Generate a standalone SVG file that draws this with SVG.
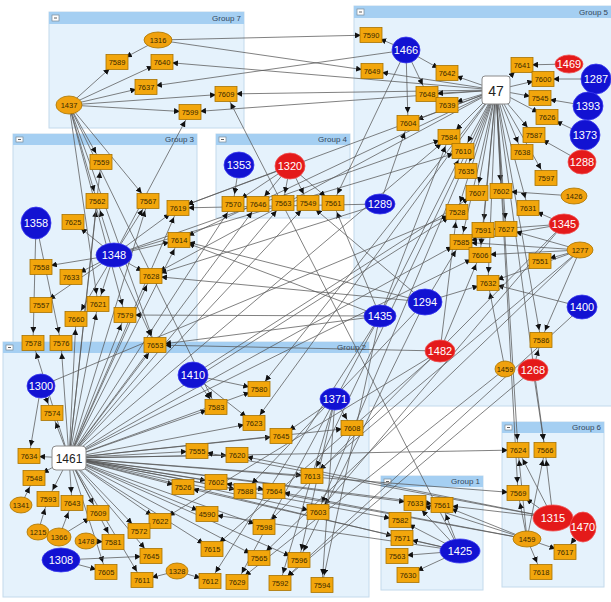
<svg xmlns="http://www.w3.org/2000/svg" width="611" height="602" viewBox="0 0 611 602">
<style>
.gb{fill:#E5F2FC;stroke:#C3DAEC;stroke-width:1}
.gh{fill:#A5CFF2}
.gt{font-family:"Liberation Sans",Arial,sans-serif;font-size:8px;fill:#34465a;text-anchor:end}
.mb{fill:#fff;stroke:#7a8a99;stroke-width:0.7}
#edges path{stroke:#575757;stroke-width:0.75;fill:none;marker-end:url(#a)}
.r{fill:#F2A60C;stroke:#A87300;stroke-width:0.8}
.o{fill:#F0A10E;stroke:#A87300;stroke-width:0.8}
.b{fill:#1212D2;stroke:#3a3af0;stroke-width:0.8}
.rd{fill:#E41A1A;stroke:#f05050;stroke-width:0.8}
.w{fill:#fff;stroke:#8a8a8a;stroke-width:1}
.t{font-family:"Liberation Sans",Arial,sans-serif;font-size:7.5px;fill:#3a2a00;text-anchor:middle}
.tw{font-family:"Liberation Sans",Arial,sans-serif;font-size:11px;fill:#fff;text-anchor:middle}
.tb{font-family:"Liberation Sans",Arial,sans-serif;fill:#222;text-anchor:middle}
</style>
<defs>
<marker id="a" viewBox="0 0 6 6" refX="16" refY="3" markerWidth="6" markerHeight="6" orient="auto" markerUnits="userSpaceOnUse"><path d="M0,0L6,3L0,6z" fill="#111"/></marker>
</defs>
<rect width="611" height="602" fill="#fff"/>
<g id="groups">
<g id="group7"><rect class="gb" x="49" y="12" width="195" height="116"/><rect class="gh" x="49" y="12" width="195" height="12"/><rect class="mb" x="52" y="15" width="7" height="6"/><path d="M54 18h3" stroke="#333" stroke-width="0.8"/><text class="gt" x="241" y="21">Group 7</text></g>
<g id="group5"><rect class="gb" x="354" y="6" width="270" height="400"/><rect class="gh" x="354" y="6" width="270" height="12"/><rect class="mb" x="357" y="9" width="7" height="6"/><path d="M359 12h3" stroke="#333" stroke-width="0.8"/><text class="gt" x="608" y="15">Group 5</text></g>
<g id="group3"><rect class="gb" x="13" y="134" width="184" height="222"/><rect class="gh" x="13" y="134" width="184" height="11"/><rect class="mb" x="16" y="137" width="7" height="5"/><path d="M18 139.5h3" stroke="#333" stroke-width="0.8"/><text class="gt" x="194" y="142">Group 3</text></g>
<g id="group4"><rect class="gb" x="216" y="134" width="134" height="84"/><rect class="gh" x="216" y="134" width="134" height="11"/><rect class="mb" x="219" y="137" width="7" height="5"/><path d="M221 139.5h3" stroke="#333" stroke-width="0.8"/><text class="gt" x="347" y="142">Group 4</text></g>
<g id="group2"><rect class="gb" x="3" y="342" width="366" height="255"/><rect class="gh" x="3" y="342" width="366" height="11"/><rect class="mb" x="6" y="345" width="7" height="5"/><path d="M8 347.5h3" stroke="#333" stroke-width="0.8"/><text class="gt" x="366" y="350">Group 2</text></g>
<g id="group1"><rect class="gb" x="381" y="476" width="102" height="114"/><rect class="gh" x="381" y="476" width="102" height="11"/><rect class="mb" x="384" y="479" width="7" height="5"/><path d="M386 481.5h3" stroke="#333" stroke-width="0.8"/><text class="gt" x="480" y="484">Group 1</text></g>
<g id="group6"><rect class="gb" x="502" y="422" width="102" height="165"/><rect class="gh" x="502" y="422" width="102" height="11"/><rect class="mb" x="505" y="425" width="7" height="5"/><path d="M507 427.5h3" stroke="#333" stroke-width="0.8"/><text class="gt" x="601" y="430">Group 6</text></g>
</g>
<g id="edges">
<path d="M158 40L117 62"/><path d="M158 40L371 35"/><path d="M158 40L372 71"/>
<path d="M69 105L117 62"/><path d="M69 105L162 62"/><path d="M69 105L146 87"/><path d="M69 105L190 112"/><path d="M69 105L226 94"/>
<path d="M496 90L162 62"/><path d="M406 50L146 87"/><path d="M496 90L226 94"/><path d="M496 90L190 112"/><path d="M114 255L190 112"/><path d="M460 551L226 94"/>
<path d="M69 105L101 162"/><path d="M69 105L97 201"/><path d="M69 105L148 201"/><path d="M69 105L98 304"/><path d="M69 105L125 315"/><path d="M69 105L155 345"/><path d="M69 105L216 407"/>
<path d="M406 50L371 35"/><path d="M406 50L447 73"/><path d="M406 50L427 94"/><path d="M406 50L408 123"/><path d="M406 50L333 203"/>
<path d="M496 90L372 71"/><path d="M496 90L447 73"/><path d="M496 90L427 94"/><path d="M496 90L447 105"/><path d="M496 90L522 65"/><path d="M496 90L543 79"/><path d="M496 90L540 98"/><path d="M496 90L547 117"/><path d="M496 90L534 135"/><path d="M496 90L449 137"/><path d="M496 90L463 151"/><path d="M496 90L522 152"/><path d="M496 90L546 178"/><path d="M496 90L466 171"/><path d="M496 90L477 193"/><path d="M496 90L501 191"/><path d="M496 90L528 208"/><path d="M496 90L457 212"/><path d="M496 90L483 230"/><path d="M496 90L506 229"/><path d="M496 90L461 242"/><path d="M496 90L480 255"/><path d="M496 90L488 283"/><path d="M496 90L541 340"/><path d="M496 90L518 450"/><path d="M496 90L518 493"/><path d="M496 90L408 123"/><path d="M496 90L178 208"/><path d="M496 90L179 240"/><path d="M496 90L151 276"/><path d="M496 90L259 389"/><path d="M496 90L254 423"/><path d="M496 90L318 512"/><path d="M496 90L312 476"/><path d="M496 90L545 450"/>
<path d="M569 64L522 65"/><path d="M596 79L543 79"/><path d="M588 106L540 98"/><path d="M585 135L547 117"/><path d="M582 162L534 135"/><path d="M574 196L501 191"/><path d="M564 224L528 208"/><path d="M564 224L483 230"/><path d="M564 224L461 242"/>
<path d="M580 250L540 261"/><path d="M580 250L461 242"/><path d="M580 250L480 255"/><path d="M580 250L506 229"/><path d="M580 250L488 283"/><path d="M580 250L541 340"/>
<path d="M582 307L488 283"/><path d="M425 302L488 283"/><path d="M425 302L461 242"/><path d="M533 370L541 340"/><path d="M533 370L545 450"/><path d="M505 369L488 283"/>
<path d="M380 204L408 123"/><path d="M380 204L178 208"/><path d="M380 316L125 315"/><path d="M380 316L463 151"/><path d="M380 316L449 137"/><path d="M440 351L480 255"/><path d="M440 351L457 212"/>
<path d="M69 458L449 137"/><path d="M69 458L457 212"/><path d="M69 458L461 242"/><path d="M69 458L480 255"/><path d="M114 255L449 137"/><path d="M114 255L463 151"/><path d="M193 375L477 193"/><path d="M41 386L457 212"/>
<path d="M239 165L233 204"/><path d="M290 166L233 204"/><path d="M290 166L258 204"/><path d="M290 166L283 203"/><path d="M290 166L308 203"/><path d="M290 166L333 203"/><path d="M290 166L178 208"/>
<path d="M69 458L233 204"/><path d="M69 458L258 204"/><path d="M69 458L283 203"/><path d="M69 458L308 203"/><path d="M380 316L333 203"/><path d="M425 302L308 203"/>
<path d="M36 223L33 343"/><path d="M36 223L61 343"/>
<path d="M114 255L97 201"/><path d="M114 255L73 222"/><path d="M114 255L41 267"/><path d="M114 255L71 277"/><path d="M114 255L41 305"/><path d="M114 255L98 304"/><path d="M114 255L76 319"/><path d="M114 255L151 276"/><path d="M114 255L155 345"/><path d="M114 255L179 240"/><path d="M114 255L178 208"/><path d="M114 255L148 201"/>
<path d="M69 458L97 201"/><path d="M69 458L61 343"/><path d="M69 458L33 343"/><path d="M69 458L76 319"/><path d="M69 458L98 304"/><path d="M69 458L125 315"/><path d="M69 458L155 345"/><path d="M69 458L151 276"/><path d="M69 458L179 240"/><path d="M69 458L148 201"/><path d="M69 458L178 208"/><path d="M69 458L101 162"/>
<path d="M425 302L179 240"/><path d="M380 316L155 345"/><path d="M380 204L151 276"/><path d="M425 302L151 276"/><path d="M440 351L155 345"/><path d="M380 316L179 240"/>
<path d="M41 386L52 413"/><path d="M41 386L29 456"/>
<path d="M69 458L52 413"/><path d="M69 458L29 456"/><path d="M69 458L34 478"/><path d="M69 458L48 499"/><path d="M69 458L72 503"/><path d="M69 458L98 513"/><path d="M69 458L183 487"/><path d="M69 458L160 521"/><path d="M69 458L139 531"/><path d="M69 458L113 542"/><path d="M69 458L151 556"/><path d="M69 458L106 572"/><path d="M69 458L142 580"/><path d="M69 458L197 451"/><path d="M69 458L237 455"/><path d="M69 458L216 482"/><path d="M69 458L245 491"/><path d="M69 458L274 491"/><path d="M69 458L312 476"/><path d="M69 458L264 527"/><path d="M69 458L207 514"/><path d="M69 458L212 549"/><path d="M69 458L259 558"/><path d="M69 458L299 560"/><path d="M69 458L318 512"/><path d="M69 458L216 407"/><path d="M69 458L259 389"/><path d="M69 458L254 423"/><path d="M69 458L281 436"/><path d="M69 458L352 428"/><path d="M69 458L415 503"/><path d="M69 458L442 505"/><path d="M69 458L400 520"/><path d="M69 458L402 538"/><path d="M69 458L518 450"/><path d="M69 458L518 493"/>
<path d="M21 505L34 478"/><path d="M38 532L48 499"/><path d="M59 537L72 503"/><path d="M59 537L98 513"/><path d="M86 541L113 542"/><path d="M61 560L151 556"/><path d="M61 560L106 572"/><path d="M177 571L210 581"/><path d="M177 571L142 580"/>
<path d="M193 375L216 407"/><path d="M193 375L259 389"/><path d="M193 375L254 423"/>
<path d="M335 399L352 428"/><path d="M335 399L281 436"/><path d="M335 399L299 560"/><path d="M335 399L322 585"/><path d="M335 399L280 583"/>
<path d="M580 250L312 476"/><path d="M580 250L259 558"/><path d="M564 224L318 512"/><path d="M564 224L264 527"/><path d="M440 351L212 549"/><path d="M440 351L160 521"/><path d="M425 302L299 560"/><path d="M425 302L245 491"/><path d="M380 316L322 585"/><path d="M380 316L210 581"/><path d="M380 316L237 582"/><path d="M582 307L280 583"/><path d="M527 539L216 482"/><path d="M527 539L274 491"/><path d="M553 518L237 455"/><path d="M553 518L197 451"/><path d="M460 551L183 487"/><path d="M460 551L207 514"/><path d="M505 369L237 582"/><path d="M533 370L280 583"/>
<path d="M460 551L415 503"/><path d="M460 551L442 505"/><path d="M460 551L400 520"/><path d="M460 551L402 538"/><path d="M460 551L397 556"/><path d="M460 551L408 575"/>
<path d="M527 539L442 505"/><path d="M527 539L415 503"/><path d="M553 518L442 505"/>
<path d="M527 539L518 450"/><path d="M527 539L545 450"/><path d="M527 539L518 493"/><path d="M527 539L565 552"/><path d="M527 539L541 572"/>
<path d="M553 518L518 450"/><path d="M553 518L545 450"/><path d="M553 518L518 493"/><path d="M583 527L565 552"/>
</g>
<g id="nodes">
<g id="n1316"><ellipse class="o" cx="158" cy="40" rx="14" ry="8"/><text class="t" x="158" y="43">1316</text></g>
<g id="n1437"><ellipse class="o" cx="69" cy="105" rx="13" ry="9"/><text class="t" x="69" y="108">1437</text></g>
<g id="n7589"><rect class="r" x="106" y="54.5" width="22" height="15"/><text class="t" x="117" y="65">7589</text></g>
<g id="n7640"><rect class="r" x="151" y="54.5" width="22" height="15"/><text class="t" x="162" y="65">7640</text></g>
<g id="n7637"><rect class="r" x="135" y="79.5" width="22" height="15"/><text class="t" x="146" y="90">7637</text></g>
<g id="n7599"><rect class="r" x="179" y="104.5" width="22" height="15"/><text class="t" x="190" y="115">7599</text></g>
<g id="n7609"><rect class="r" x="215" y="86.5" width="22" height="15"/><text class="t" x="226" y="97">7609</text></g>
<g id="n7590"><rect class="r" x="360" y="27.5" width="22" height="15"/><text class="t" x="371" y="38">7590</text></g>
<g id="n7649"><rect class="r" x="361" y="63.5" width="22" height="15"/><text class="t" x="372" y="74">7649</text></g>
<g id="n7642"><rect class="r" x="436" y="65.5" width="22" height="15"/><text class="t" x="447" y="76">7642</text></g>
<g id="n7641"><rect class="r" x="511" y="57.5" width="22" height="15"/><text class="t" x="522" y="68">7641</text></g>
<g id="n7600"><rect class="r" x="532" y="71.5" width="22" height="15"/><text class="t" x="543" y="82">7600</text></g>
<g id="n7648"><rect class="r" x="416" y="86.5" width="22" height="15"/><text class="t" x="427" y="97">7648</text></g>
<g id="n7639"><rect class="r" x="436" y="97.5" width="22" height="15"/><text class="t" x="447" y="108">7639</text></g>
<g id="n7604"><rect class="r" x="397" y="115.5" width="22" height="15"/><text class="t" x="408" y="126">7604</text></g>
<g id="n7545"><rect class="r" x="529" y="90.5" width="22" height="15"/><text class="t" x="540" y="101">7545</text></g>
<g id="n7626"><rect class="r" x="536" y="109.5" width="22" height="15"/><text class="t" x="547" y="120">7626</text></g>
<g id="n7584"><rect class="r" x="438" y="129.5" width="22" height="15"/><text class="t" x="449" y="140">7584</text></g>
<g id="n7587"><rect class="r" x="523" y="127.5" width="22" height="15"/><text class="t" x="534" y="138">7587</text></g>
<g id="n7610"><rect class="r" x="452" y="143.5" width="22" height="15"/><text class="t" x="463" y="154">7610</text></g>
<g id="n7638"><rect class="r" x="511" y="144.5" width="22" height="15"/><text class="t" x="522" y="155">7638</text></g>
<g id="n7597"><rect class="r" x="535" y="170.5" width="22" height="15"/><text class="t" x="546" y="181">7597</text></g>
<g id="n7635"><rect class="r" x="455" y="163.5" width="22" height="15"/><text class="t" x="466" y="174">7635</text></g>
<g id="n7607"><rect class="r" x="466" y="185.5" width="22" height="15"/><text class="t" x="477" y="196">7607</text></g>
<g id="n7602"><rect class="r" x="490" y="183.5" width="22" height="15"/><text class="t" x="501" y="194">7602</text></g>
<g id="n7631"><rect class="r" x="517" y="200.5" width="22" height="15"/><text class="t" x="528" y="211">7631</text></g>
<g id="n7528"><rect class="r" x="446" y="204.5" width="22" height="15"/><text class="t" x="457" y="215">7528</text></g>
<g id="n7591"><rect class="r" x="472" y="222.5" width="22" height="15"/><text class="t" x="483" y="233">7591</text></g>
<g id="n7627"><rect class="r" x="495" y="221.5" width="22" height="15"/><text class="t" x="506" y="232">7627</text></g>
<g id="n7585"><rect class="r" x="450" y="234.5" width="22" height="15"/><text class="t" x="461" y="245">7585</text></g>
<g id="n7606"><rect class="r" x="469" y="247.5" width="22" height="15"/><text class="t" x="480" y="258">7606</text></g>
<g id="n7551"><rect class="r" x="529" y="253.5" width="22" height="15"/><text class="t" x="540" y="264">7551</text></g>
<g id="n7632"><rect class="r" x="477" y="275.5" width="22" height="15"/><text class="t" x="488" y="286">7632</text></g>
<g id="n7586"><rect class="r" x="530" y="332.5" width="22" height="15"/><text class="t" x="541" y="343">7586</text></g>
<g id="n47"><rect class="w" x="482" y="76" width="28" height="28" rx="3"/><text class="tb" x="496" y="95.5" font-size="14">47</text></g>
<g id="n1466"><ellipse class="b" cx="406" cy="50" rx="14" ry="13"/><text class="tw" x="406" y="54">1466</text></g>
<g id="n1469"><ellipse class="rd" cx="569" cy="64" rx="14" ry="9"/><text class="tw" x="569" y="68">1469</text></g>
<g id="n1287"><ellipse class="b" cx="596" cy="79" rx="15" ry="15"/><text class="tw" x="596" y="83">1287</text></g>
<g id="n1393"><ellipse class="b" cx="588" cy="106" rx="15" ry="14"/><text class="tw" x="588" y="110">1393</text></g>
<g id="n1373"><ellipse class="b" cx="585" cy="135" rx="15" ry="15"/><text class="tw" x="585" y="139">1373</text></g>
<g id="n1288"><ellipse class="rd" cx="582" cy="162" rx="14" ry="12"/><text class="tw" x="582" y="166">1288</text></g>
<g id="n1426"><ellipse class="o" cx="574" cy="196" rx="13" ry="8"/><text class="t" x="574" y="199">1426</text></g>
<g id="n1345"><ellipse class="rd" cx="564" cy="224" rx="15" ry="10"/><text class="tw" x="564" y="228">1345</text></g>
<g id="n1277"><ellipse class="o" cx="580" cy="250" rx="13" ry="8"/><text class="t" x="580" y="253">1277</text></g>
<g id="n1294"><ellipse class="b" cx="425" cy="302" rx="17" ry="13"/><text class="tw" x="425" y="306">1294</text></g>
<g id="n1400"><ellipse class="b" cx="582" cy="307" rx="15" ry="12"/><text class="tw" x="582" y="311">1400</text></g>
<g id="n1482"><ellipse class="rd" cx="440" cy="351" rx="15" ry="11"/><text class="tw" x="440" y="355">1482</text></g>
<g id="n1459a"><ellipse class="o" cx="505" cy="369" rx="10" ry="8"/><text class="t" x="505" y="372">1459</text></g>
<g id="n1268"><ellipse class="rd" cx="533" cy="370" rx="15" ry="11"/><text class="tw" x="533" y="374">1268</text></g>
<g id="n1289"><ellipse class="b" cx="380" cy="204" rx="15" ry="10"/><text class="tw" x="380" y="208">1289</text></g>
<g id="n1435"><ellipse class="b" cx="380" cy="316" rx="16" ry="11"/><text class="tw" x="380" y="320">1435</text></g>
<g id="n1353"><ellipse class="b" cx="239" cy="165" rx="15" ry="13"/><text class="tw" x="239" y="169">1353</text></g>
<g id="n1320"><ellipse class="rd" cx="290" cy="166" rx="15" ry="13"/><text class="tw" x="290" y="170">1320</text></g>
<g id="n7570"><rect class="r" x="222" y="196.5" width="22" height="15"/><text class="t" x="233" y="207">7570</text></g>
<g id="n7646"><rect class="r" x="247" y="196.5" width="22" height="15"/><text class="t" x="258" y="207">7646</text></g>
<g id="n7563"><rect class="r" x="272" y="195.5" width="22" height="15"/><text class="t" x="283" y="206">7563</text></g>
<g id="n7549"><rect class="r" x="297" y="195.5" width="22" height="15"/><text class="t" x="308" y="206">7549</text></g>
<g id="n7561"><rect class="r" x="322" y="195.5" width="22" height="15"/><text class="t" x="333" y="206">7561</text></g>
<g id="n7559"><rect class="r" x="90" y="154.5" width="22" height="15"/><text class="t" x="101" y="165">7559</text></g>
<g id="n7562"><rect class="r" x="86" y="193.5" width="22" height="15"/><text class="t" x="97" y="204">7562</text></g>
<g id="n7567"><rect class="r" x="137" y="193.5" width="22" height="15"/><text class="t" x="148" y="204">7567</text></g>
<g id="n7619"><rect class="r" x="167" y="200.5" width="22" height="15"/><text class="t" x="178" y="211">7619</text></g>
<g id="n1358"><ellipse class="b" cx="36" cy="223" rx="15" ry="16"/><text class="tw" x="36" y="227">1358</text></g>
<g id="n7625"><rect class="r" x="62" y="214.5" width="22" height="15"/><text class="t" x="73" y="225">7625</text></g>
<g id="n1348"><ellipse class="b" cx="114" cy="255" rx="18" ry="12"/><text class="tw" x="114" y="259">1348</text></g>
<g id="n7614"><rect class="r" x="168" y="232.5" width="22" height="15"/><text class="t" x="179" y="243">7614</text></g>
<g id="n7558"><rect class="r" x="30" y="259.5" width="22" height="15"/><text class="t" x="41" y="270">7558</text></g>
<g id="n7633"><rect class="r" x="60" y="269.5" width="22" height="15"/><text class="t" x="71" y="280">7633</text></g>
<g id="n7628"><rect class="r" x="140" y="268.5" width="22" height="15"/><text class="t" x="151" y="279">7628</text></g>
<g id="n7557"><rect class="r" x="30" y="297.5" width="22" height="15"/><text class="t" x="41" y="308">7557</text></g>
<g id="n7621"><rect class="r" x="87" y="296.5" width="22" height="15"/><text class="t" x="98" y="307">7621</text></g>
<g id="n7660"><rect class="r" x="65" y="311.5" width="22" height="15"/><text class="t" x="76" y="322">7660</text></g>
<g id="n7579"><rect class="r" x="114" y="307.5" width="22" height="15"/><text class="t" x="125" y="318">7579</text></g>
<g id="n7578"><rect class="r" x="22" y="335.5" width="22" height="15"/><text class="t" x="33" y="346">7578</text></g>
<g id="n7576"><rect class="r" x="50" y="335.5" width="22" height="15"/><text class="t" x="61" y="346">7576</text></g>
<g id="n7653"><rect class="r" x="144" y="337.5" width="22" height="15"/><text class="t" x="155" y="348">7653</text></g>
<g id="n1410"><ellipse class="b" cx="193" cy="375" rx="15" ry="13"/><text class="tw" x="193" y="379">1410</text></g>
<g id="n1300"><ellipse class="b" cx="41" cy="386" rx="14" ry="12"/><text class="tw" x="41" y="390">1300</text></g>
<g id="n1371"><ellipse class="b" cx="335" cy="399" rx="15" ry="11"/><text class="tw" x="335" y="403">1371</text></g>
<g id="n7574"><rect class="r" x="41" y="405.5" width="22" height="15"/><text class="t" x="52" y="416">7574</text></g>
<g id="n7580"><rect class="r" x="248" y="381.5" width="22" height="15"/><text class="t" x="259" y="392">7580</text></g>
<g id="n7583"><rect class="r" x="205" y="399.5" width="22" height="15"/><text class="t" x="216" y="410">7583</text></g>
<g id="n7623"><rect class="r" x="243" y="415.5" width="22" height="15"/><text class="t" x="254" y="426">7623</text></g>
<g id="n7608"><rect class="r" x="341" y="420.5" width="22" height="15"/><text class="t" x="352" y="431">7608</text></g>
<g id="n7645"><rect class="r" x="270" y="428.5" width="22" height="15"/><text class="t" x="281" y="439">7645</text></g>
<g id="n7634"><rect class="r" x="18" y="448.5" width="22" height="15"/><text class="t" x="29" y="459">7634</text></g>
<g id="n7555"><rect class="r" x="186" y="443.5" width="22" height="15"/><text class="t" x="197" y="454">7555</text></g>
<g id="n7620"><rect class="r" x="226" y="447.5" width="22" height="15"/><text class="t" x="237" y="458">7620</text></g>
<g id="n7548"><rect class="r" x="23" y="470.5" width="22" height="15"/><text class="t" x="34" y="481">7548</text></g>
<g id="n7593"><rect class="r" x="37" y="491.5" width="22" height="15"/><text class="t" x="48" y="502">7593</text></g>
<g id="n7643"><rect class="r" x="61" y="495.5" width="22" height="15"/><text class="t" x="72" y="506">7643</text></g>
<g id="n7609b"><rect class="r" x="87" y="505.5" width="22" height="15"/><text class="t" x="98" y="516">7609</text></g>
<g id="n7613"><rect class="r" x="301" y="468.5" width="22" height="15"/><text class="t" x="312" y="479">7613</text></g>
<g id="n7602b"><rect class="r" x="205" y="474.5" width="22" height="15"/><text class="t" x="216" y="485">7602</text></g>
<g id="n7526"><rect class="r" x="172" y="479.5" width="22" height="15"/><text class="t" x="183" y="490">7526</text></g>
<g id="n7588"><rect class="r" x="234" y="483.5" width="22" height="15"/><text class="t" x="245" y="494">7588</text></g>
<g id="n7564"><rect class="r" x="263" y="483.5" width="22" height="15"/><text class="t" x="274" y="494">7564</text></g>
<g id="n7603"><rect class="r" x="307" y="504.5" width="22" height="15"/><text class="t" x="318" y="515">7603</text></g>
<g id="n4590"><rect class="r" x="196" y="506.5" width="22" height="15"/><text class="t" x="207" y="517">4590</text></g>
<g id="n7622"><rect class="r" x="149" y="513.5" width="22" height="15"/><text class="t" x="160" y="524">7622</text></g>
<g id="n7572"><rect class="r" x="128" y="523.5" width="22" height="15"/><text class="t" x="139" y="534">7572</text></g>
<g id="n7581"><rect class="r" x="102" y="534.5" width="22" height="15"/><text class="t" x="113" y="545">7581</text></g>
<g id="n7645b"><rect class="r" x="140" y="548.5" width="22" height="15"/><text class="t" x="151" y="559">7645</text></g>
<g id="n7598"><rect class="r" x="253" y="519.5" width="22" height="15"/><text class="t" x="264" y="530">7598</text></g>
<g id="n7605"><rect class="r" x="95" y="564.5" width="22" height="15"/><text class="t" x="106" y="575">7605</text></g>
<g id="n7611"><rect class="r" x="131" y="572.5" width="22" height="15"/><text class="t" x="142" y="583">7611</text></g>
<g id="n7615"><rect class="r" x="201" y="541.5" width="22" height="15"/><text class="t" x="212" y="552">7615</text></g>
<g id="n7565"><rect class="r" x="248" y="550.5" width="22" height="15"/><text class="t" x="259" y="561">7565</text></g>
<g id="n7596"><rect class="r" x="288" y="552.5" width="22" height="15"/><text class="t" x="299" y="563">7596</text></g>
<g id="n7612"><rect class="r" x="199" y="573.5" width="22" height="15"/><text class="t" x="210" y="584">7612</text></g>
<g id="n7629"><rect class="r" x="226" y="574.5" width="22" height="15"/><text class="t" x="237" y="585">7629</text></g>
<g id="n7592"><rect class="r" x="269" y="575.5" width="22" height="15"/><text class="t" x="280" y="586">7592</text></g>
<g id="n7594"><rect class="r" x="311" y="577.5" width="22" height="15"/><text class="t" x="322" y="588">7594</text></g>
<g id="n1461"><rect class="w" x="52" y="446" width="34" height="24" rx="4"/><text class="tb" x="69" y="462.5" font-size="12">1461</text></g>
<g id="n1341"><ellipse class="o" cx="21" cy="505" rx="11" ry="8"/><text class="t" x="21" y="508">1341</text></g>
<g id="n1215"><ellipse class="o" cx="38" cy="532" rx="11" ry="8"/><text class="t" x="38" y="535">1215</text></g>
<g id="n1366"><ellipse class="o" cx="59" cy="537" rx="12" ry="9"/><text class="t" x="59" y="540">1366</text></g>
<g id="n1478"><ellipse class="o" cx="86" cy="541" rx="11" ry="8"/><text class="t" x="86" y="544">1478</text></g>
<g id="n1308"><ellipse class="b" cx="61" cy="560" rx="19" ry="12"/><text class="tw" x="61" y="564">1308</text></g>
<g id="n1328"><ellipse class="o" cx="177" cy="571" rx="11" ry="8"/><text class="t" x="177" y="574">1328</text></g>
<g id="n7633b"><rect class="r" x="404" y="495.5" width="22" height="15"/><text class="t" x="415" y="506">7633</text></g>
<g id="n7561b"><rect class="r" x="431" y="497.5" width="22" height="15"/><text class="t" x="442" y="508">7561</text></g>
<g id="n7582"><rect class="r" x="389" y="512.5" width="22" height="15"/><text class="t" x="400" y="523">7582</text></g>
<g id="n7571"><rect class="r" x="391" y="530.5" width="22" height="15"/><text class="t" x="402" y="541">7571</text></g>
<g id="n7563b"><rect class="r" x="386" y="548.5" width="22" height="15"/><text class="t" x="397" y="559">7563</text></g>
<g id="n7630"><rect class="r" x="397" y="567.5" width="22" height="15"/><text class="t" x="408" y="578">7630</text></g>
<g id="n1425"><ellipse class="b" cx="460" cy="551" rx="20" ry="12"/><text class="tw" x="460" y="555">1425</text></g>
<g id="n7624"><rect class="r" x="507" y="442.5" width="22" height="15"/><text class="t" x="518" y="453">7624</text></g>
<g id="n7566"><rect class="r" x="534" y="442.5" width="22" height="15"/><text class="t" x="545" y="453">7566</text></g>
<g id="n7569"><rect class="r" x="507" y="485.5" width="22" height="15"/><text class="t" x="518" y="496">7569</text></g>
<g id="n1459"><ellipse class="o" cx="527" cy="539" rx="14" ry="8"/><text class="t" x="527" y="542">1459</text></g>
<g id="n7617"><rect class="r" x="554" y="544.5" width="22" height="15"/><text class="t" x="565" y="555">7617</text></g>
<g id="n7618"><rect class="r" x="530" y="564.5" width="22" height="15"/><text class="t" x="541" y="575">7618</text></g>
<g id="n1315"><ellipse class="rd" cx="553" cy="518" rx="20" ry="13"/><text class="tw" x="553" y="522">1315</text></g>
<g id="n1470"><ellipse class="rd" cx="583" cy="527" rx="13" ry="15"/><text class="tw" x="583" y="531">1470</text></g>
</g>
</svg>
